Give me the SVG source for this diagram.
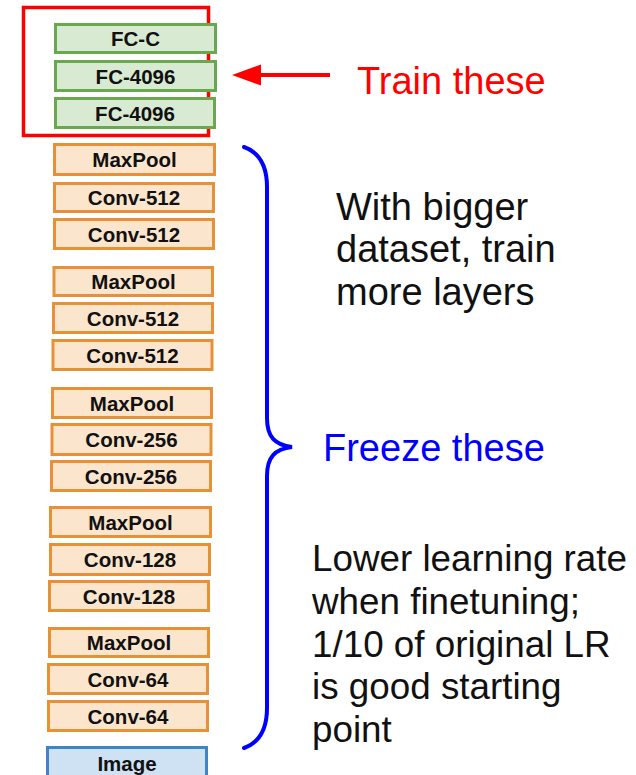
<svg xmlns="http://www.w3.org/2000/svg" width="636" height="775" viewBox="0 0 636 775">
  <style>
    .fc rect { fill: #d9ead3; stroke: #6aa84f; stroke-width: 3; }
    .conv rect { fill: #fce5cd; stroke: #e69138; stroke-width: 3; }
    .img rect { fill: #cfe2f3; stroke: #3d85c6; stroke-width: 3; }
    .lbl { font-family: "Liberation Sans", Arial, sans-serif; font-weight: bold; font-size: 20.5px; fill: #111; text-anchor: middle; }
    .note { font-family: "Liberation Sans", Arial, sans-serif; font-size: 38px; }
    .note-sm { font-family: "Liberation Sans", Arial, sans-serif; font-size: 36.8px; }
  </style>
  <rect width="636" height="775" fill="#ffffff"/>

  <!-- frame around the trainable fully-connected layers -->
  <rect id="train-frame" x="23.5" y="7.5" width="185" height="128" fill="none" stroke="#ff0000" stroke-width="3.5"/>

  <!-- fully-connected layers -->
  <g id="fc-c" class="fc"><rect x="55.5" y="24.5" width="160" height="28"/><text class="lbl" x="135.5" y="46">FC-C</text></g>
  <g id="fc-4096-a" class="fc"><rect x="55.5" y="61.5" width="160" height="29"/><text class="lbl" x="135.5" y="83.5">FC-4096</text></g>
  <g id="fc-4096-b" class="fc"><rect x="55.5" y="98.5" width="159" height="29"/><text class="lbl" x="135" y="120.5">FC-4096</text></g>

  <!-- convolutional blocks -->
  <g id="pool-5" class="conv"><rect x="54.5" y="144.5" width="160" height="30"/><text class="lbl" x="134.5" y="167">MaxPool</text></g>
  <g id="conv5-2" class="conv"><rect x="54.5" y="183.5" width="159" height="28"/><text class="lbl" x="134" y="205">Conv-512</text></g>
  <g id="conv5-1" class="conv"><rect x="54.5" y="219.5" width="159" height="29"/><text class="lbl" x="134" y="241.5">Conv-512</text></g>

  <g id="pool-4" class="conv"><rect x="54" y="267.5" width="158.5" height="28"/><text class="lbl" x="133.5" y="289">MaxPool</text></g>
  <g id="conv4-2" class="conv"><rect x="53.5" y="303.5" width="159" height="29"/><text class="lbl" x="133" y="325.5">Conv-512</text></g>
  <g id="conv4-1" class="conv"><rect x="53" y="340.5" width="159" height="29"/><text class="lbl" x="132.5" y="362.5">Conv-512</text></g>

  <g id="pool-3" class="conv"><rect x="52.5" y="388.5" width="159" height="29"/><text class="lbl" x="132" y="410.5">MaxPool</text></g>
  <g id="conv3-2" class="conv"><rect x="52" y="424.5" width="159" height="30"/><text class="lbl" x="131.5" y="447">Conv-256</text></g>
  <g id="conv3-1" class="conv"><rect x="51.5" y="461.5" width="159" height="29"/><text class="lbl" x="131" y="483.5">Conv-256</text></g>

  <g id="pool-2" class="conv"><rect x="50.5" y="507.5" width="160" height="29"/><text class="lbl" x="130.5" y="529.5">MaxPool</text></g>
  <g id="conv2-2" class="conv"><rect x="50.5" y="544.5" width="159" height="30"/><text class="lbl" x="130" y="567">Conv-128</text></g>
  <g id="conv2-1" class="conv"><rect x="49.5" y="581.5" width="159" height="29"/><text class="lbl" x="129" y="603.5">Conv-128</text></g>

  <g id="pool-1" class="conv"><rect x="49.5" y="628.5" width="159" height="28"/><text class="lbl" x="129" y="650">MaxPool</text></g>
  <g id="conv1-2" class="conv"><rect x="48.5" y="664.5" width="159" height="29"/><text class="lbl" x="128" y="686.5">Conv-64</text></g>
  <g id="conv1-1" class="conv"><rect x="48.5" y="701.5" width="159" height="29"/><text class="lbl" x="128" y="723.5">Conv-64</text></g>

  <!-- input -->
  <g id="image" class="img"><rect x="47.5" y="747.5" width="159" height="32"/><text class="lbl" x="127" y="770.5">Image</text></g>

  <!-- connectors: arrow to the FC layers and brace over the frozen layers -->
  <g id="connectors">
    <line x1="330" y1="75" x2="256" y2="75" stroke="#ff0000" stroke-width="4"/>
    <polygon points="232,75 261,64.5 261,85.5" fill="#ff0000"/>
    <path d="M244,147 C258,152 267,165 267,187 L267,418 C267,437 275,445 292,447 C275,449 267,457 267,476 L267,708 C267,730 258,743 244,748" fill="none" stroke="#0000ff" stroke-width="4" stroke-linecap="round"/>
  </g>

  <!-- annotations -->
  <text class="note" x="357" y="94" fill="#ff0000">Train these</text>
  <text class="note" x="323" y="461" fill="#0000ff">Freeze these</text>
  <text class="note" fill="#111111">
    <tspan x="336" y="219.5">With bigger</tspan>
    <tspan x="336" y="262">dataset, train</tspan>
    <tspan x="336" y="304.5">more layers</tspan>
  </text>
  <text class="note-sm" fill="#111111">
    <tspan x="312" y="571">Lower learning rate</tspan>
    <tspan x="312" y="614">when finetuning;</tspan>
    <tspan x="312" y="656.5">1/10 of original LR</tspan>
    <tspan x="312" y="699">is good starting</tspan>
    <tspan x="312" y="741.5">point</tspan>
  </text>
</svg>
